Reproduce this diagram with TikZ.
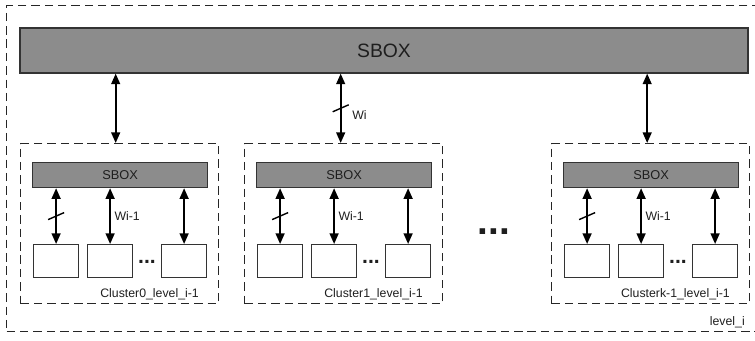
\documentclass[tikz,border=0pt]{standalone}
\usepackage{fontspec}
\setmainfont{Liberation Sans}
\usetikzlibrary{arrows.meta, positioning}
\definecolor{sboxgray}{RGB}{140,140,140}
\definecolor{textdark}{RGB}{30,30,30}

\begin{document}
\begin{tikzpicture}[x=0.02cm, y=-0.02cm,
  sbox/.style={rectangle, draw=black!80, fill=sboxgray, line width=0.7pt, text=textdark, inner sep=0pt},
  cell/.style={rectangle, draw=black!80, fill=white, line width=0.7pt, minimum width=0.9cm, minimum height=0.66cm, inner sep=0pt},
  cluster/.style={rectangle, draw=black!85, dash pattern=on 4.8pt off 2.8pt, line width=0.8pt, minimum width=3.96cm, minimum height=3.2cm, inner sep=0pt},
  arrow/.style={draw=black, {Triangle[length=6pt,width=5pt]}-{Triangle[length=6pt,width=5pt]}, line width=1pt},
  small/.style={font=\fontsize{7}{8}\selectfont, text=textdark}]

  \useasboundingbox (0,0) rectangle (755,341);
  \clip (0,0) rectangle (755,341);

  \node [cluster, minimum width=15.1cm, minimum height=6.52cm, anchor=north west] (level) at (6,5) {};
  \node [small, anchor=base east] (levellabel) at (751,326) {level\_i};
  \node [sbox, minimum width=14.56cm, minimum height=0.9cm, font=\fontsize{11}{13}\selectfont] (top) at (384,50.5) {SBOX};

  % clusters of level i-1
  \foreach \x/\n/\lab in {20/0/Cluster0, 244/1/Cluster1, 551/k/Clusterk-1} {
    \node [cluster, anchor=north west] (c\n) at (\x,143) {};
    \node [sbox, minimum width=3.5cm, minimum height=0.5cm, font=\fontsize{7.3}{8}\selectfont, anchor=north west] (sb\n) at (\x+12,162) {SBOX};
    \node [cell, anchor=north west] (a\n) at (\x+13,244) {};
    \node [cell, anchor=north west] (b\n) at (\x+67,244) {};
    \node [cell, anchor=north west] (d\n) at (\x+141,244) {};
    \node [font=\bfseries\fontsize{12}{12}\selectfont, text=textdark, anchor=base, inner sep=0pt] (dots\n) at (\x+127,264) {...};
    \node [small, anchor=base east] (lab\n) at (\x+185,297) {\lab\_level\_i-1};
    \draw [arrow] (a\n.north) -- coordinate (m\n) (a\n.north |- sb\n.south);
    \draw [line width=0.8pt] (m\n) ++(-8,3.5) -- ++(16,-7);
    \draw [arrow] (b\n.north) -- node[small, right, inner sep=2pt] {Wi-1} (b\n.north |- sb\n.south);
    \draw [arrow] (d\n.north) -- (d\n.north |- sb\n.south);
  }

  \node [font=\bfseries\fontsize{22}{22}\selectfont, text=textdark, anchor=base, inner sep=0pt] (gap) at (494,235) {...};

  \draw [arrow] ([xshift=-0.08cm]c0.north) -- ([xshift=-0.08cm]c0.north |- top.south);
  \draw [arrow] ([xshift=-0.06cm]c1.north) -- coordinate (mtop) ([xshift=-0.06cm]c1.north |- top.south);
  \draw [line width=0.8pt] (mtop) ++(-8,3.5) -- ++(16,-7);
  \node [small, anchor=west, inner sep=0pt] (wi) at (352,115) {Wi};
  \draw [arrow] ([xshift=-0.07cm]ck.north) -- ([xshift=-0.07cm]ck.north |- top.south);
\end{tikzpicture}
\end{document}
